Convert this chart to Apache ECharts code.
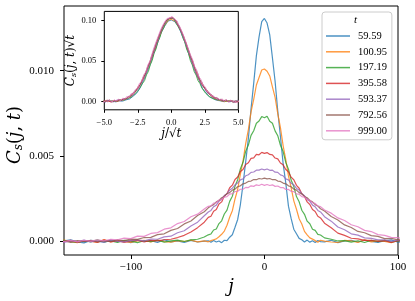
<!DOCTYPE html>
<html><head><meta charset="utf-8">
<script src="https://cdn.jsdelivr.net/npm/echarts@6/dist/echarts.min.js"></script>
<style>html,body{margin:0;padding:0;background:#fff}#c{width:415px;height:301px}</style>
</head><body><div id="c"></div>
<script>
// times t and legend labels
const tValues = [59.59, 100.95, 197.19, 395.58, 593.37, 792.56, 999.00];
const legendLabels = ['59.59', '100.95', '197.19', '395.58', '593.37', '792.56', '999.00'];

// lattice sites j
const jSites = [-160,-155,-150,-145,-140,-135,-130,-125,-120,-115,-110,-105,-100,-95,-90,-85,-80,-75,-70,-65,-60,-55,-50,-45,
  -42,-40,-38,-36,-34,-32,-30,-28,-26,-24,-22,-20,-18,-16,-14,-12,-10,-8,-6,-4,-2,0,2,4,6,8,10,12,14,16,18,20,22,24,26,28,30,32,34,36,38,40,42,
  45,50,55,60,65,70,75,80,85,90,95,100,105,110,115,120,125,130,135,140,145,150,155,160];

// C_s(j,t), in units of 1e-5
const Cs_t59 = [4,-6,2,8,-3,-9,5,1,-5,7,-2,3,-8,6,-1,4,-6,9,-3,2,-7,5,-4,1,
  3,-6,5,-4,2,-8,6,4,24,38,82,128,214,334,466,603,776,927,1088,1198,1287,1306,1279,1210,1076,938,764,614,457,341,206,134,71,44,17,9,-4,7,-5,3,-7,5,-2,
  -3,6,-8,2,5,-4,7,-1,-6,3,8,-5,1,-7,4,-2,6,-9,3,0,5,-3,7,-6];
const Cs_t101 = [-5,3,7,-2,-8,4,1,-6,9,-3,5,-1,-7,2,6,-4,8,-2,-5,3,-1,7,-3,2,
  -3,4,9,14,27,41,60,94,141,179,248,305,392,470,572,655,759,832,916,960,1004,1010,997,969,905,843,748,666,561,479,383,314,237,188,132,101,58,38,20,13,4,-5,6,
  1,-4,-7,5,2,-6,8,-3,4,-1,-8,6,3,-5,7,-2,-4,9,-6,1,4,-7,2,5];
const Cs_t197 = [3,-5,6,-2,-7,4,-3,8,-4,2,-6,5,1,-8,3,-2,6,-5,2,7,-1,8,12,25,
  38,43,66,72,104,120,160,183,234,264,323,361,424,463,527,564,621,648,692,705,731,724,733,704,692,647,619,563,526,462,423,359,321,262,232,182,158,118,103,71,64,41,37,
  20,12,2,4,-5,3,-7,6,-2,5,-4,1,7,-6,2,-3,8,-5,4,-1,-6,3,-2,6];
const Cs_t396 = [-4,6,-2,5,-7,3,1,-5,8,-3,4,-6,2,7,-4,5,2,9,12,22,35,55,80,112,
  140,147,176,186,219,231,266,279,314,329,362,377,409,421,450,460,486,489,509,507,521,515,520,509,507,488,483,459,448,421,408,376,361,328,311,279,263,231,216,186,175,147,137,
  106,79,48,35,18,14,5,6,-1,4,-6,3,7,-4,2,-8,5,-2,6,-5,1,4,-7,3];
const Cs_t593 = [5,-3,-6,4,-2,7,-4,2,-5,6,1,-3,5,8,3,13,12,26,30,50,62,90,112,150,
  172,181,203,212,235,246,268,279,300,311,331,341,360,366,384,390,404,406,417,417,424,419,424,416,417,405,404,389,384,366,360,340,331,310,300,278,267,245,234,212,202,181,172,
  144,118,84,68,44,36,20,17,8,9,0,6,-4,3,-6,5,-2,7,-5,2,-7,4,-1,-3];
const Cs_t793 = [-3,5,2,-6,4,-2,6,-4,3,-1,8,4,13,11,22,23,39,44,64,75,102,119,151,173,
  196,207,215,231,239,255,263,279,285,300,306,320,325,337,341,351,353,362,361,368,365,370,366,368,361,362,353,351,341,337,325,320,306,300,285,278,263,255,239,231,215,207,191,
  178,145,125,96,81,58,50,33,29,16,17,8,9,2,6,-1,4,-5,3,-2,6,-4,1,-3];
const Cs_t999 = [-4,3,-2,5,-3,6,1,8,3,12,9,19,16,30,29,46,51,71,79,104,116,144,159,189,
  205,208,224,226,242,245,259,262,277,279,292,293,305,305,316,315,325,322,331,327,334,328,333,327,331,322,324,315,315,304,304,293,291,278,276,262,259,244,241,226,222,207,203,
  183,165,137,122,97,85,64,57,39,35,23,21,12,13,5,9,1,6,-2,4,-3,2,-5,1];

// tick labels
const mainXTicks = [-100, 0, 100];
const mainYTicks = [0, 0.005, 0.010];
const insetXTicks = [-5, -2.5, 0, 2.5, 5];
const insetYTicks = [0, 0.05, 0.10];

const seriesValues = [Cs_t59, Cs_t101, Cs_t197, Cs_t396, Cs_t593, Cs_t793, Cs_t999];
const colors = ['rgba(31,119,180,0.8)','rgba(255,127,14,0.8)','rgba(44,160,44,0.8)','rgba(214,39,40,0.8)',
  'rgba(148,103,189,0.8)','rgba(140,86,75,0.8)','rgba(227,119,194,0.8)'];
const UNIT = 1e-5;
const FONT = 'Liberation Serif';
const MATH = 'DejaVu Serif';
const minus = s => s.replace('-', '\u2212');

function richStyles(big, small, subPad) {
  return {
    i: {fontFamily: MATH, fontStyle: 'italic', fontSize: big, color: '#000', fill: '#000'},
    r: {fontFamily: MATH, fontSize: big, color: '#000', fill: '#000'},
    s: {fontFamily: MATH, fontStyle: 'italic', fontSize: small, color: '#000', fill: '#000', padding: [subPad, 0, 0, 0]}
  };
}

const chart = echarts.init(document.getElementById('c'));
const series = [];
seriesValues.forEach((vals, k) => {
  series.push({
    type: 'line', name: legendLabels[k], xAxisIndex: 0, yAxisIndex: 0,
    data: jSites.map((j, i) => [j, vals[i] * UNIT]),
    showSymbol: false, symbol: 'none', clip: true, z: 2,
    color: colors[k], lineStyle: {width: 1.2, color: colors[k]}
  });
});
seriesValues.forEach((vals, k) => {
  const s = Math.sqrt(tValues[k]);
  series.push({
    type: 'line', name: legendLabels[k], xAxisIndex: 1, yAxisIndex: 1,
    data: jSites.map((j, i) => [j / s, vals[i] * UNIT * s]),
    showSymbol: false, symbol: 'none', clip: true, z: 7,
    color: colors[k], lineStyle: {width: 1, color: colors[k]}
  });
});

const tick = {show: true, length: 4, lineStyle: {color: '#000', width: 1}};
const noLine = {show: false, onZero: false};
chart.setOption({
  animation: false,
  backgroundColor: '#fff',
  grid: [
    {left: 64, top: 6, width: 334, height: 249, show: true, borderColor: '#000', borderWidth: 1, z: 1,
     containLabel: false, outerBoundsMode: 'none'},
    {left: 104.3, top: 11.4, width: 134, height: 98.4, show: true, borderColor: '#000', borderWidth: 1, backgroundColor: '#fff', z: 5,
     containLabel: false, outerBoundsMode: 'none'}
  ],
  xAxis: [
    {type: 'value', gridIndex: 0, position: 'bottom', min: -150, max: 100, axisLine: noLine, splitLine: {show: false},
     axisTick: Object.assign({customValues: mainXTicks}, tick),
     axisLabel: {customValues: mainXTicks, formatter: v => minus(String(v)), fontFamily: FONT, fontSize: 11, color: '#000', margin: 7},
     name: 'j', nameLocation: 'middle', nameGap: 21,
     nameTextStyle: {fontFamily: MATH, fontStyle: 'italic', fontSize: 18, color: '#000'}},
    {type: 'value', gridIndex: 1, position: 'bottom', min: -5, max: 5, z: 6, axisLine: noLine, splitLine: {show: false},
     axisTick: Object.assign({customValues: insetXTicks}, tick, {length: 3}),
     axisLabel: {customValues: insetXTicks, formatter: v => minus(v.toFixed(1)), fontFamily: FONT, fontSize: 8.5, color: '#000', margin: 8},
     name: '{i|j}{r|/√}{i|t}', nameLocation: 'middle', nameGap: 12,
     nameTextStyle: {rich: richStyles(12, 8, 4)}}
  ],
  yAxis: [
    {type: 'value', gridIndex: 0, position: 'left', min: -0.000803, max: 0.01379, axisLine: noLine, splitLine: {show: false},
     axisTick: Object.assign({customValues: mainYTicks}, tick),
     axisLabel: {customValues: mainYTicks, formatter: v => v.toFixed(3), fontFamily: FONT, fontSize: 11, color: '#000', margin: 10}},
    {type: 'value', gridIndex: 1, position: 'left', min: -0.0105, max: 0.1115, z: 6, axisLine: noLine, splitLine: {show: false},
     axisTick: Object.assign({customValues: insetYTicks}, tick, {length: 3}),
     axisLabel: {customValues: insetYTicks, formatter: v => v.toFixed(2), fontFamily: FONT, fontSize: 8.5, color: '#000', margin: 8},
     name: '{i|C}{s|s}{r|(}{i|j}{r|, }{i|t}{r|)√}{i|t}', nameLocation: 'middle', nameGap: 21, nameRotate: 90,
     nameTextStyle: {rich: richStyles(12, 8, 5)}}
  ],
  legend: {
    data: legendLabels, orient: 'vertical', left: 322, top: 12,
    padding: [18, 5, 3, 4], itemGap: 3.8, itemWidth: 24, itemHeight: 1.5, icon: 'rect',
    backgroundColor: 'rgba(255,255,255,0.8)', borderColor: '#cccccc', borderWidth: 1, borderRadius: 3,
    textStyle: {fontFamily: FONT, fontSize: 10.5, color: '#000', lineHeight: 12, padding: [0, 0, 0, 3]},
    selectedMode: false, z: 10
  },
  graphic: [
    {type: 'text', left: 354, top: 15, z: 11,
     style: {text: 't', fontFamily: FONT, fontStyle: 'italic', fontSize: 11, fill: '#000'}},
    {type: 'text', x: 15.5, y: 135, rotation: Math.PI / 2, z: 11,
     style: {text: '{i|C}{s|s}{r|(}{i|j}{r|, }{i|t}{r|)}', rich: richStyles(18, 12, 7), align: 'center', verticalAlign: 'middle', fill: '#000'}}
  ],
  series: series
});
</script></body></html>
